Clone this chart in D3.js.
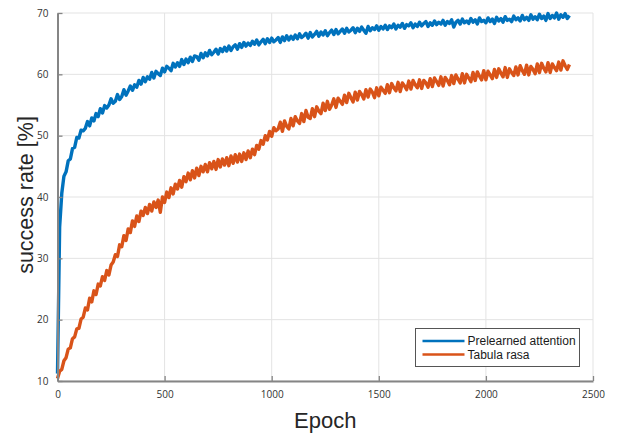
<!DOCTYPE html>
<html>
<head>
<meta charset="utf-8">
<script src="https://cdn.jsdelivr.net/npm/d3@7"></script>
<style>
  body { margin: 0; background: #fff; }
  svg { display: block; }
</style>
</head>
<body>
<svg id="chart" width="627" height="439"></svg>
<script>
// values, one point every 10 epochs
const epochStep = 10;
const xTicks = [0, 500, 1000, 1500, 2000, 2500];
const yTicks = [10, 20, 30, 40, 50, 60, 70];
const seriesNames = ['Prelearned attention', 'Tabula rasa'];

const prelearned = [
  11.2, 35.1, 40.6, 43.4, 44.1, 45.9, 46.2, 47.9, 48.1, 49.7,
  49.6, 50.9, 50.8, 51.2, 52.3, 51.6, 52.9, 52.4, 53.6, 53.1,
  54.4, 53.7, 54.9, 54.5, 55.0, 56.0, 55.3, 55.6, 56.7, 55.9,
  56.4, 57.5, 56.6, 57.3, 58.1, 57.4, 58.3, 57.9, 59.0, 58.4,
  59.5, 58.8, 59.6, 59.2, 60.3, 59.4, 60.5, 60.1, 59.8, 61.0,
  60.4, 61.3, 61.0, 60.6, 61.8, 61.2, 61.9, 61.3, 62.4, 61.6,
  62.5, 61.9, 62.8, 62.1, 63.0, 62.9, 62.3, 63.4, 62.7, 63.5,
  63.0, 63.9, 63.2, 63.6, 64.1, 63.3, 64.2, 63.7, 64.4, 63.8,
  64.6, 63.9, 64.5, 64.8, 64.1, 65.0, 64.4, 65.2, 64.6, 65.1,
  64.7, 65.4, 64.9, 65.6, 64.8, 65.3, 65.7, 65.0, 65.8, 65.2,
  65.9, 65.3, 65.6, 66.0, 65.2, 66.1, 65.5, 66.3, 65.6, 66.2,
  65.7, 66.4, 65.8, 66.6, 66.0, 66.3, 66.7, 65.9, 66.8, 66.1,
  66.5, 67.0, 66.2, 66.9, 66.4, 67.1, 66.3, 66.8, 67.2, 66.5,
  67.3, 66.6, 67.0, 67.4, 66.7, 67.5, 66.9, 67.2, 67.6, 66.8,
  67.5, 67.0, 67.7, 67.2, 66.7, 67.8, 67.1, 67.6, 67.3, 67.9,
  67.2, 67.8, 67.4, 68.0, 67.3, 67.9, 67.6, 68.2, 67.4, 68.0,
  67.7, 68.3, 67.5, 68.1, 67.9, 68.4, 67.6, 68.2, 67.8, 68.5,
  67.9, 68.3, 68.6, 67.8, 68.4, 68.0, 68.7, 68.1, 68.5, 68.2,
  68.8, 68.0, 68.6, 68.3, 68.9, 67.7, 68.5, 68.8, 68.2, 69.0,
  68.4, 68.7, 68.3, 69.1, 68.5, 68.9, 68.2, 69.2, 68.6, 68.8,
  68.4, 69.2, 68.6, 69.0, 68.3, 69.3, 68.7, 69.1, 68.5, 69.4,
  68.8, 69.0, 68.6, 69.5, 68.9, 69.2, 68.7, 69.6, 68.9, 69.3,
  68.8, 69.7, 69.0, 69.4, 68.9, 69.8, 69.1, 69.5, 68.8, 69.9,
  69.1, 69.6, 69.2, 70.0, 69.0, 69.7, 69.3, 69.9, 69.1, 69.6
];

const tabulaRasa = [
  10.4, 11.6, 11.9, 13.3, 13.8, 15.2, 15.4, 16.9, 17.2, 18.5,
  18.6, 20.1, 20.4, 21.9, 21.6, 23.5, 22.9, 24.7, 24.1, 25.8,
  25.5, 27.0, 26.4, 28.0, 27.3, 28.9, 29.4, 30.6, 30.3, 32.2,
  31.9, 33.7, 32.9, 34.8, 34.2, 36.1, 35.2, 36.9, 36.0, 37.7,
  37.0, 38.3, 37.3, 38.8, 37.7, 39.2, 38.3, 39.5, 37.5, 40.0,
  39.1, 40.8, 39.9, 41.5, 40.5, 42.1, 41.3, 42.7, 41.6, 43.3,
  42.5, 43.9, 42.8, 44.3, 43.1, 44.7, 43.5, 45.0, 44.1, 45.3,
  44.1, 45.6, 44.6, 45.8, 44.5, 46.1, 44.9, 46.2, 45.2, 46.4,
  45.1, 46.7, 45.5, 46.9, 45.7, 47.0, 45.8, 47.2, 46.1, 47.5,
  46.4, 47.8, 46.9, 48.4, 47.8, 49.2, 48.6, 50.0, 49.3, 50.7,
  49.9, 51.3, 50.8, 51.1, 52.2, 50.7, 52.4, 51.5, 51.1, 52.8,
  51.6, 53.1, 52.4, 52.0, 53.6, 52.3, 54.1, 53.0, 52.8, 54.4,
  53.1, 54.7, 54.0, 53.6, 55.3, 54.1, 55.6, 54.3, 55.0, 56.0,
  54.6, 56.1, 55.6, 55.1, 56.6, 55.4, 56.9, 56.2, 55.5, 57.1,
  55.8, 57.2, 56.7, 56.0, 57.5, 56.3, 57.6, 57.1, 56.2, 57.8,
  56.5, 57.9, 57.4, 56.9, 58.3, 57.0, 58.5, 57.8, 57.3, 58.7,
  57.2, 58.6, 58.1, 57.5, 58.9, 57.6, 59.0, 58.3, 57.8, 59.1,
  57.7, 59.0, 58.6, 57.9, 59.3, 58.0, 59.4, 58.8, 58.2, 59.6,
  58.1, 59.5, 59.0, 58.3, 59.8, 58.5, 59.9, 59.2, 58.6, 60.1,
  58.6, 60.0, 59.4, 58.8, 60.3, 59.0, 60.4, 59.7, 59.1, 60.6,
  59.1, 60.5, 59.9, 59.3, 60.8, 59.5, 60.9, 60.2, 59.6, 61.1,
  59.5, 60.9, 60.3, 59.8, 61.2, 59.9, 61.4, 60.6, 60.0, 61.5,
  59.9, 61.3, 60.8, 60.1, 61.7, 60.3, 61.8, 61.0, 60.4, 61.9,
  60.3, 61.7, 61.1, 60.6, 62.0, 60.7, 62.2, 61.4, 60.8, 61.6
];

const colors = ['#0072BD', '#D95319'];

const svg = d3.select('#chart');
const margin = {top: 13, right: 34, bottom: 58, left: 57.5};
const width = 627 - margin.left - margin.right;
const height = 439 - margin.top - margin.bottom;

const x = d3.scaleLinear().domain([0, 2500]).range([0, width]);
const y = d3.scaleLinear().domain([10, 70]).range([height, 0]);

const g = svg.append('g')
    .attr('transform', `translate(${margin.left},${margin.top})`);

// grid
g.append('g')
    .selectAll('line')
    .data(xTicks)
    .join('line')
    .attr('x1', d => x(d)).attr('x2', d => x(d))
    .attr('y1', 0).attr('y2', height)
    .attr('stroke', '#e3e3e3')
    .attr('stroke-width', 1);

g.append('g')
    .selectAll('line')
    .data(yTicks)
    .join('line')
    .attr('x1', 0).attr('x2', width)
    .attr('y1', d => y(d)).attr('y2', d => y(d))
    .attr('stroke', '#e3e3e3')
    .attr('stroke-width', 1);

// series
const line = d3.line()
    .x((d, i) => x(i * epochStep))
    .y(d => y(d));

[prelearned, tabulaRasa].forEach((values, k) => {
    g.append('path')
        .datum(values)
        .attr('fill', 'none')
        .attr('stroke', colors[k])
        .attr('stroke-width', 3.4)
        .attr('stroke-linejoin', 'round')
        .attr('d', line);
});

// axes (ticks point inward, MATLAB style)
const xAxis = g.append('g')
    .attr('transform', `translate(0,${height})`)
    .call(d3.axisBottom(x).tickValues(xTicks).tickFormat(d3.format('d'))
        .tickSizeInner(-5).tickSizeOuter(0).tickPadding(10));

const yAxis = g.append('g')
    .call(d3.axisLeft(y).tickValues(yTicks).tickFormat(d3.format('d'))
        .tickSizeInner(-5).tickSizeOuter(0).tickPadding(9));

[xAxis, yAxis].forEach(ax => {
    ax.select('.domain').attr('stroke', '#858585').attr('stroke-width', 2);
    ax.selectAll('.tick line').attr('stroke', '#858585').attr('stroke-width', 1.3);
    ax.selectAll('.tick text')
        .attr('fill', '#333')
        .style('font-family', '"Open Sans", sans-serif')
        .style('font-size', '10px');
});

// axis labels
svg.append('text')
    .attr('x', margin.left + width / 2)
    .attr('y', 428)
    .attr('text-anchor', 'middle')
    .style('font-family', '"Liberation Sans", Arial, sans-serif')
    .style('font-size', '22px')
    .attr('fill', '#262626')
    .text('Epoch');

svg.append('text')
    .attr('transform', 'translate(33,195) rotate(-90)')
    .attr('text-anchor', 'middle')
    .style('font-family', '"Liberation Sans", Arial, sans-serif')
    .style('font-size', '21.5px')
    .attr('fill', '#262626')
    .text('success rate [%]');

// legend
const legend = svg.append('g').attr('transform', 'translate(415.5,328.5)');
legend.append('rect')
    .attr('width', 164)
    .attr('height', 38)
    .attr('fill', '#fff')
    .attr('stroke', '#555')
    .attr('stroke-width', 1);

seriesNames.forEach((name, k) => {
    const ly = 12.5 + k * 13.5;
    legend.append('line')
        .attr('x1', 7).attr('x2', 49)
        .attr('y1', ly).attr('y2', ly)
        .attr('stroke', colors[k])
        .attr('stroke-width', 2.5);
    legend.append('text')
        .attr('x', 52)
        .attr('y', ly + 4.3)
        .style('font-family', '"Liberation Sans", Arial, sans-serif')
        .style('font-size', '12px')
        .attr('fill', '#1a1a1a')
        .text(name);
});
</script>
</body>
</html>
